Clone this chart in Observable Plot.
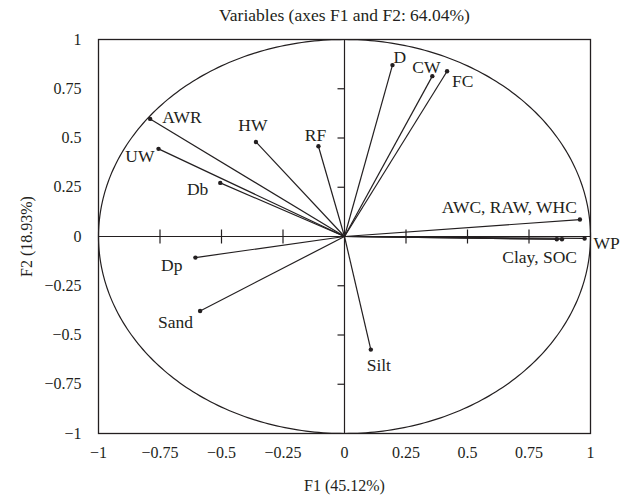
<!DOCTYPE html>
<html>
<head>
<meta charset="utf-8">
<script src="https://cdn.jsdelivr.net/npm/d3@7"></script>
<script src="https://cdn.jsdelivr.net/npm/@observablehq/plot@0.6"></script>
<style>
  html, body { margin: 0; padding: 0; background: #fff; }
</style>
</head>
<body>
<div id="chart"></div>
<script>
// ---- data ----
const varNames = ["AWR", "UW", "Db", "HW", "RF", "D", "CW", "FC", "AWC, RAW, WHC", "WP", "Clay", "SOC", "Dp", "Sand", "Silt"];
const f1Values = [-0.790, -0.756, -0.505, -0.360, -0.106, 0.195, 0.357, 0.417, 0.957, 0.976, 0.863, 0.884, -0.606, -0.587, 0.107];
const f2Values = [0.597, 0.445, 0.272, 0.480, 0.458, 0.870, 0.814, 0.839, 0.086, -0.010, -0.014, -0.014, -0.107, -0.378, -0.574];
const tickValues = [-1, -0.75, -0.5, -0.25, 0, 0.25, 0.5, 0.75, 1];
const innerTicks = [-0.75, -0.5, -0.25, 0.25, 0.5, 0.75];
const titleText = "Variables (axes F1 and F2: 64.04%)";
const xLabel = "F1 (45.12%)";
const yLabel = "F2 (18.93%)";

// label text per variable (Clay and SOC share one label)
const labelText = {"Clay": "", "SOC": "Clay, SOC"};

// ---- styling: label placement ----
const labelPlace = {
  "AWR": {anchor: "start", dx: 12, dy: -2},
  "UW": {anchor: "end", dx: -4, dy: 8},
  "Db": {anchor: "end", dx: -12, dy: 6},
  "HW": {anchor: "middle", dx: -3, dy: -17},
  "RF": {anchor: "middle", dx: -3, dy: -11},
  "D": {anchor: "start", dx: 1, dy: -8},
  "CW": {anchor: "middle", dx: -6, dy: -9},
  "FC": {anchor: "start", dx: 5, dy: 10},
  "AWC, RAW, WHC": {anchor: "end", dx: -3, dy: -12},
  "WP": {anchor: "start", dx: 9, dy: 5},
  "SOC": {anchor: "end", dx: 15, dy: 18},
  "Dp": {anchor: "end", dx: -13, dy: 8},
  "Sand": {anchor: "end", dx: -7, dy: 11},
  "Silt": {anchor: "middle", dx: 8, dy: 16}
};

const data = varNames.map((name, i) => ({name, x: f1Values[i], y: f2Values[i]}));
const ink = "#231f20";
const fmt = d => (d < 0 ? "\u2212" : "") + Math.abs(d);

// reference circle of radius 1 (correlation circle)
const angles = d3.range(0, 361, 1);

// tick symbols
const vTick = {draw(ctx) { ctx.moveTo(0, -7); ctx.lineTo(0, 7); }};
const hTick = {draw(ctx) { ctx.moveTo(-7, 0); ctx.lineTo(0, 0); }};

const labelMarks = data
  .filter(d => labelPlace[d.name])
  .map(d => {
    const p = labelPlace[d.name];
    return Plot.text([d], {
      x: "x", y: "y",
      text: e => labelText[e.name] !== undefined ? labelText[e.name] : e.name,
      textAnchor: p.anchor, dx: p.dx, dy: p.dy,
      lineAnchor: "middle", fill: ink, fontSize: 17.5
    });
  });

const chart = Plot.plot({
  width: 629,
  height: 498,
  marginLeft: 98,
  marginRight: 39,
  marginTop: 39,
  marginBottom: 65,
  style: {fontFamily: "'Liberation Serif', 'DejaVu Serif', serif", fontSize: "16px", color: ink, background: "#fff"},
  x: {domain: [-1, 1]},
  y: {domain: [-1, 1]},
  marks: [
    Plot.frame({stroke: ink, strokeWidth: 1.3}),
    Plot.axisX({ticks: tickValues, tickSize: 0, tickPadding: 13, tickFormat: fmt, label: null, fontSize: 16}),
    Plot.axisY({ticks: tickValues, tickSize: 0, tickPadding: 17, tickFormat: fmt, label: null, fontSize: 16}),
    Plot.ruleX([0], {stroke: ink, strokeWidth: 1.2}),
    Plot.ruleY([0], {stroke: ink, strokeWidth: 1.2}),
    Plot.dot(innerTicks, {x: d => d, y: 0, symbol: vTick, stroke: ink, strokeWidth: 1.2, fill: "none"}),
    Plot.dot(innerTicks, {x: 0, y: d => d, symbol: hTick, stroke: ink, strokeWidth: 1.2, fill: "none"}),
    Plot.line(angles, {x: a => Math.cos(a * Math.PI / 180), y: a => Math.sin(a * Math.PI / 180), stroke: ink, strokeWidth: 1.2}),
    Plot.link(data, {x1: 0, y1: 0, x2: "x", y2: "y", stroke: ink, strokeWidth: 1.2}),
    Plot.dot(data, {x: "x", y: "y", r: 2.2, fill: ink, stroke: "none"}),
    ...labelMarks,
    Plot.text([titleText], {frameAnchor: "top", dy: -24, lineAnchor: "middle", fill: ink, fontSize: 17.5}),
    Plot.text([xLabel], {frameAnchor: "bottom", dy: 52, lineAnchor: "middle", fill: ink, fontSize: 16}),
    Plot.text([yLabel], {frameAnchor: "left", dx: -72, rotate: -90, lineAnchor: "middle", textAnchor: "middle", fill: ink, fontSize: 16})
  ]
});
document.getElementById("chart").appendChild(chart);
</script>
</body>
</html>
